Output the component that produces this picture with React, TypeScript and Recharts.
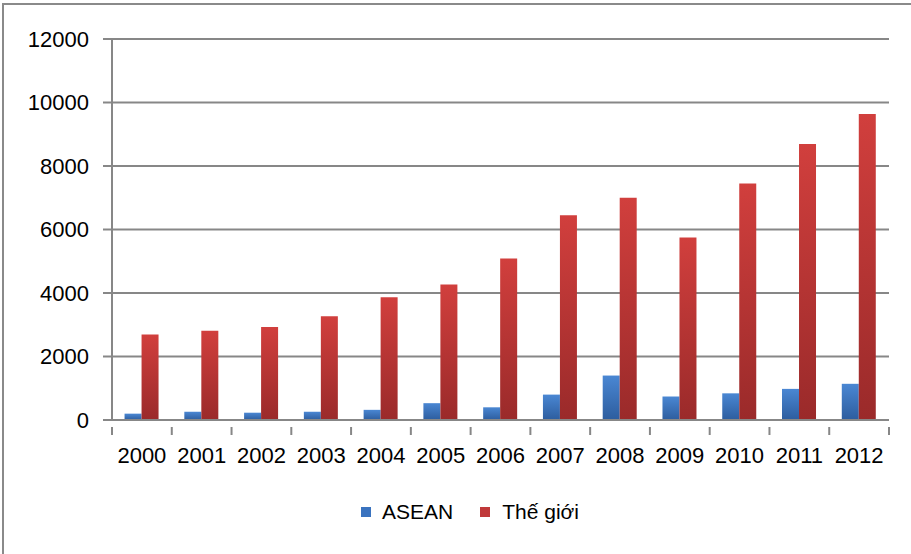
import React from 'react';
import { BarChart, Bar, XAxis, YAxis, CartesianGrid, Legend } from 'recharts';

const years = ['2000', '2001', '2002', '2003', '2004', '2005', '2006', '2007', '2008', '2009', '2010', '2011', '2012'];
const asean = [200, 260, 230, 260, 320, 530, 400, 800, 1400, 740, 840, 980, 1140];
const theGioi = [2690, 2810, 2930, 3270, 3870, 4270, 5090, 6450, 7000, 5750, 7450, 8690, 9640];
const yTicks = [0, 2000, 4000, 6000, 8000, 10000, 12000];

const data = years.map((year, i) => ({ year, asean: asean[i], theGioi: theGioi[i] }));

const FONT = '"Liberation Sans", Arial, sans-serif';
const GRID = '#878787';

const XTick = (props: any) => {
  const { x, y, payload, index } = props;
  const half = payload?.offset ?? 0;
  return (
    <g>
      <line x1={x - half} y1={y - 20} x2={x - half} y2={y - 12} stroke={GRID} strokeWidth={2} />
      {index === years.length - 1 && (
        <line x1={x + half} y1={y - 20} x2={x + half} y2={y - 12} stroke={GRID} strokeWidth={2} />
      )}
      <text x={x} y={y} dy="0.71em" textAnchor="middle" fontSize={22} fontFamily={FONT} fill="#000">
        {payload.value}
      </text>
    </g>
  );
};

const renderLegend = () => (
  <div
    style={{
      display: 'flex',
      justifyContent: 'center',
      alignItems: 'center',
      height: 26,
      paddingLeft: 29,
      fontFamily: FONT,
      fontSize: 21,
      color: '#000',
    }}
  >
    <span style={{ width: 10, height: 10, background: '#3a73bf', display: 'inline-block', marginRight: 11 }} />
    <span style={{ marginRight: 27 }}>ASEAN</span>
    <span style={{ width: 10, height: 10, background: '#c0393a', display: 'inline-block', marginRight: 12 }} />
    <span>Thế giới</span>
  </div>
);

export default function App() {
  return (
    <div style={{ position: 'absolute', left: 0, top: 0, width: 911, height: 554, background: '#fff', overflow: 'hidden' }}>
      <div
        style={{
          position: 'absolute',
          left: 2,
          top: 3,
          width: 920,
          height: 560,
          borderTop: '2px solid #8a8a8a',
          borderLeft: '2px solid #8a8a8a',
        }}
      />
      <BarChart
        width={911}
        height={554}
        data={data}
        margin={{ top: 39, right: 22, left: 0, bottom: 29 }}
        barCategoryGap="21%"
        barGap={0}
      >
        <defs>
          <linearGradient id="gradBlue" x1="0" y1="0" x2="0" y2="1">
            <stop offset="0%" stopColor="#4a87d3" />
            <stop offset="100%" stopColor="#2d5d9e" />
          </linearGradient>
          <linearGradient id="gradRed" x1="0" y1="0" x2="0" y2="1">
            <stop offset="0%" stopColor="#d13f3d" />
            <stop offset="100%" stopColor="#9a2a2a" />
          </linearGradient>
        </defs>
        <CartesianGrid vertical={false} stroke={GRID} strokeWidth={2} />
        <XAxis
          dataKey="year"
          height={79}
          axisLine={{ stroke: GRID, strokeWidth: 2 }}
          tickLine={false}
          tickSize={7}
          tickMargin={20}
          tick={<XTick />}
          interval={0}
        />
        <YAxis
          width={112}
          domain={[0, 12000]}
          ticks={yTicks}
          interval={0}
          axisLine={{ stroke: GRID, strokeWidth: 2 }}
          tickLine={{ stroke: GRID, strokeWidth: 2 }}
          tickSize={9}
          tickMargin={14}
          tick={{ fontSize: 22, fontFamily: FONT, fill: '#000' }}
        />
        <Legend verticalAlign="bottom" content={renderLegend} wrapperStyle={{ left: 0, width: 911 }} />
        <Bar dataKey="asean" name="ASEAN" fill="url(#gradBlue)" isAnimationActive={false} />
        <Bar dataKey="theGioi" name="Thế giới" fill="url(#gradRed)" isAnimationActive={false} />
      </BarChart>
    </div>
  );
}
